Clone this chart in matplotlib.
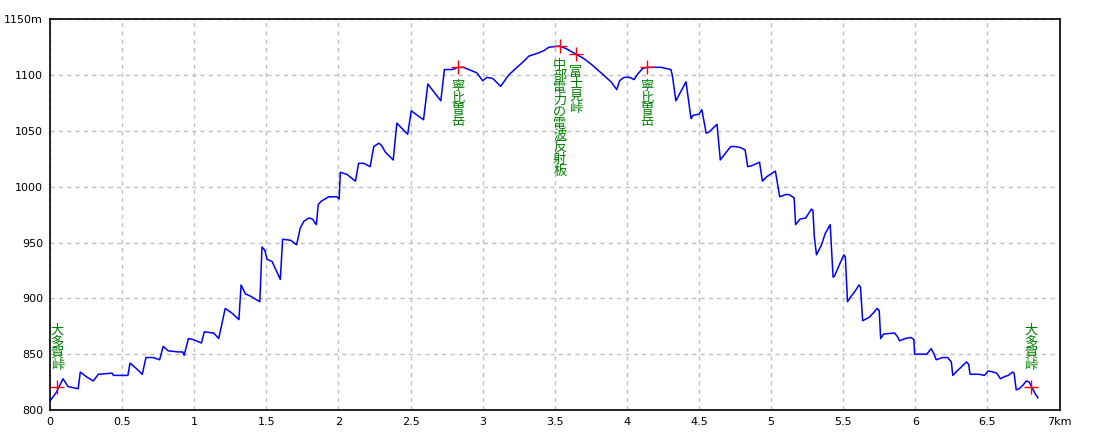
import matplotlib
matplotlib.use("Agg")
import matplotlib.pyplot as plt

plt.rcParams['font.family'] = ['Noto Sans CJK JP', 'DejaVu Sans']

# distance (km) and elevation (m) of the profile
dist_km = [0.005, 0.045, 0.09, 0.125, 0.195, 0.21, 0.25, 0.30, 0.335, 0.43, 0.44, 0.54,
           0.555, 0.60, 0.64, 0.665, 0.715, 0.76, 0.785, 0.82, 0.89, 0.92, 0.93, 0.96,
           0.995, 1.05, 1.07, 1.135, 1.17, 1.215, 1.26, 1.31, 1.325, 1.355, 1.39, 1.455,
           1.47, 1.49, 1.505, 1.54, 1.597, 1.613, 1.67, 1.71, 1.735, 1.76, 1.795, 1.82,
           1.847, 1.86, 1.88, 1.933, 1.99, 2.005, 2.013, 2.06, 2.118, 2.14, 2.175, 2.22,
           2.245, 2.28, 2.30, 2.325, 2.38, 2.405, 2.48, 2.505, 2.59, 2.62, 2.71, 2.735,
           2.79, 2.83, 2.865, 2.96, 3.0, 3.03, 3.07, 3.125, 3.18, 3.23, 3.29, 3.32,
           3.39, 3.425, 3.46, 3.53, 3.575, 3.645, 3.70, 3.76, 3.83, 3.89, 3.93, 3.95,
           3.98, 4.02, 4.05, 4.075, 4.11, 4.14, 4.19, 4.235, 4.305, 4.315, 4.34, 4.41,
           4.445, 4.46, 4.50, 4.52, 4.55, 4.57, 4.625, 4.648, 4.665, 4.72, 4.75, 4.79,
           4.82, 4.838, 4.87, 4.92, 4.94, 4.97, 5.03, 5.06, 5.10, 5.125, 5.16, 5.17,
           5.20, 5.24, 5.28, 5.29, 5.30, 5.315, 5.35, 5.375, 5.41, 5.43, 5.44, 5.48,
           5.505, 5.515, 5.53, 5.55, 5.58, 5.61, 5.62, 5.635, 5.68, 5.71, 5.735, 5.75,
           5.76, 5.78, 5.857, 5.88, 5.89, 5.93, 5.97, 5.99, 5.995, 6.08, 6.11, 6.13,
           6.145, 6.19, 6.225, 6.25, 6.26, 6.29, 6.355, 6.37, 6.38, 6.44, 6.48, 6.505,
           6.54, 6.565, 6.59, 6.62, 6.645, 6.675, 6.685, 6.70, 6.72, 6.745, 6.77, 6.79,
           6.81, 6.83, 6.85]
elev_m = [809, 816, 828, 821, 819, 834, 830, 826, 832, 833, 831, 831,
          842, 837, 832, 847, 847, 845, 857, 853, 852, 852, 849, 864,
          863, 860, 870, 869, 864, 891, 887, 881, 912, 904, 902, 897,
          946, 943, 935, 933, 917, 953, 952, 948, 963, 969, 972, 971,
          966, 984, 987, 991, 991, 989, 1013, 1011, 1005, 1021, 1021, 1018,
          1036, 1039, 1037, 1031, 1024, 1057, 1047, 1068, 1060, 1092, 1077, 1105,
          1105, 1107, 1107, 1102, 1095, 1098, 1097, 1090, 1100, 1106, 1113, 1117,
          1120, 1122, 1125, 1126, 1124, 1119, 1115, 1109, 1101, 1094, 1087, 1095,
          1098, 1098, 1096, 1101, 1106, 1107, 1107, 1107, 1105, 1100, 1077, 1094,
          1061, 1064, 1065, 1069, 1048, 1049, 1056, 1024, 1027, 1036, 1036, 1035,
          1033, 1018, 1019, 1022, 1005, 1009, 1014, 991, 993, 993, 990, 966,
          971, 972, 980, 979, 955, 939, 948, 958, 966, 919, 920, 932,
          939, 937, 897, 901, 906, 912, 910, 880, 883, 887, 891, 889,
          864, 868, 869, 865, 862, 864, 865, 863, 850, 850, 855, 850,
          845, 847, 847, 843, 831, 835, 843, 841, 832, 832, 831, 835,
          834, 833, 828, 830, 831, 834, 833, 818, 819, 822, 826, 825,
          820, 815, 811]

# named points
poi_names = ['大多賀峠', '寧比曽岳', '中部電力の電波反射板', '富士見峠', '寧比曽岳', '大多賀峠']
poi_km = [0.05, 2.83, 3.535, 3.645, 4.14, 6.80]
poi_m = [821, 1107, 1126, 1119, 1107, 821]
poi_above = [True, False, False, False, False, True]

x_ticks = [0, 0.5, 1, 1.5, 2, 2.5, 3, 3.5, 4, 4.5, 5, 5.5, 6, 6.5, 7]
x_tick_labels = ['0', '0.5', '1', '1.5', '2', '2.5', '3', '3.5', '4', '4.5', '5', '5.5', '6', '6.5', '7km']
y_ticks = [800, 850, 900, 950, 1000, 1050, 1100, 1150]
y_tick_labels = ['800', '850', '900', '950', '1000', '1050', '1100', '1150m']

fig = plt.figure(figsize=(11, 4.4), dpi=100)
ax = fig.add_axes([50 / 1100, (440 - 410) / 440, (1059.5 - 50) / 1100, (410 - 19.3) / 440])
ax.set_xlim(0, 7)
ax.set_ylim(800, 1150)

ax.grid(True, color='#c0c0c0', linestyle=(0, (3, 3)), linewidth=1.0)
ax.set_axisbelow(True)

ax.plot(dist_km, elev_m, color='#0000ff', linewidth=1.1, zorder=3)
ax.plot(poi_km, poi_m, linestyle='none', marker='+', markersize=10,
        markeredgewidth=1.0, color='#ff0000', zorder=4)

step = 11.8
for name, xk, ym, above in zip(poi_names, poi_km, poi_m, poi_above):
    n = len(name)
    for i, ch in enumerate(name):
        if above:
            dy = 21 + (n - 1 - i) * step
        else:
            dy = -19 - i * step
        ax.annotate(ch, (xk, ym), xytext=(0, dy), textcoords='offset pixels',
                    ha='center', va='center', fontsize=9.5, color='#008000', zorder=5)

ax.set_xticks(x_ticks)
ax.set_xticklabels(x_tick_labels)
ax.set_yticks(y_ticks)
ax.set_yticklabels(y_tick_labels)
ax.tick_params(length=0, labelsize=8, pad=5)
for lbl in ax.get_xticklabels() + ax.get_yticklabels():
    lbl.set_family('DejaVu Sans')
for s in ax.spines.values():
    s.set_color('black')
    s.set_linewidth(1.2)

fig.savefig('out.png', dpi=100, facecolor='white')
